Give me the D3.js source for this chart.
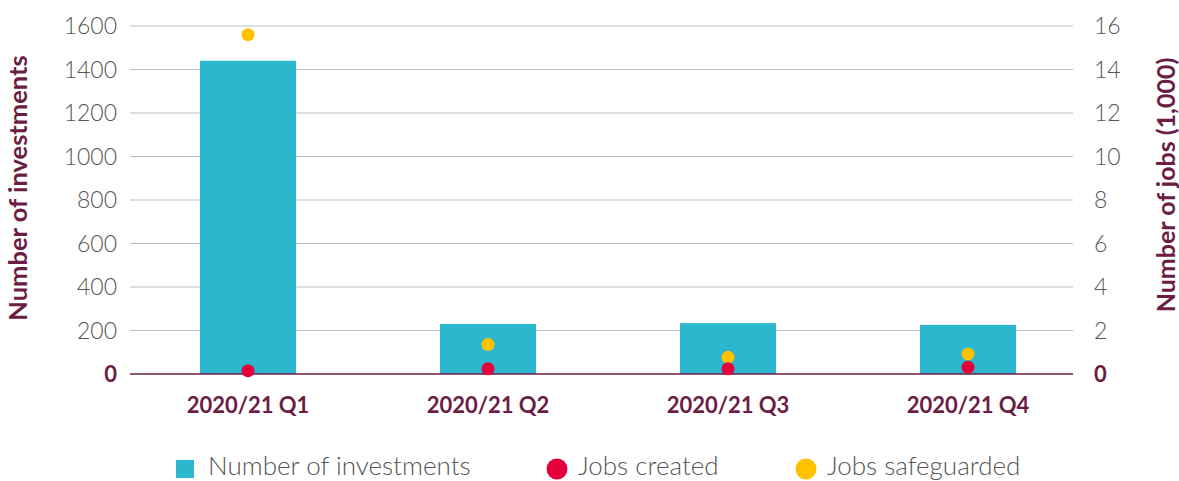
<!DOCTYPE html>
<html>
<head>
<meta charset="utf-8">
<script src="https://cdn.jsdelivr.net/npm/d3@7"></script>
<style>
  body { margin: 0; background: #fff; }
  svg { display: block; font-family: Lato, "Open Sans", sans-serif; }
</style>
</head>
<body>
<script>
  // data
  var quarters = ["2020/21 Q1", "2020/21 Q2", "2020/21 Q3", "2020/21 Q4"];
  var investments = [1440, 230, 234, 226];
  var jobsCreated = [0.15, 0.24, 0.24, 0.31];      // thousands
  var jobsSafeguarded = [15.6, 1.36, 0.77, 0.92];  // thousands
  var leftTicks = [0, 200, 400, 600, 800, 1000, 1200, 1400, 1600];
  var rightTicks = [0, 2, 4, 6, 8, 10, 12, 14, 16];

  var W = 1179, H = 481;
  var maroon = "#6b1d43", grey = "#555555";
  var cBar = "#2bb7cd", cRed = "#e3003c", cYellow = "#ffc100";

  var svg = d3.select("body").append("svg").attr("width", W).attr("height", H);

  var x = d3.scaleBand().domain(quarters).range([128, 1088]).padding(0);
  var bw = 96;
  var yL = d3.scaleLinear().domain([0, 1600]).range([374, 26]);
  var yR = d3.scaleLinear().domain([0, 16]).range([374, 26]);

  var gx0 = 130, gx1 = 1073;

  // gridlines
  svg.append("g").selectAll("line").data(leftTicks.slice(1)).enter().append("line")
    .attr("x1", gx0).attr("x2", gx1)
    .attr("y1", function(d) { return yL(d); }).attr("y2", function(d) { return yL(d); })
    .attr("stroke", "#b8bdca").attr("stroke-width", 1.2);

  // bars
  svg.append("g").selectAll("rect").data(quarters).enter().append("rect")
    .attr("x", function(d) { return x(d) + x.bandwidth() / 2 - bw / 2; })
    .attr("width", bw)
    .attr("y", function(d, i) { return yL(investments[i]); })
    .attr("height", function(d, i) { return yL(0) - yL(investments[i]); })
    .attr("fill", cBar);

  // baseline
  svg.append("line").attr("x1", gx0).attr("x2", gx1)
    .attr("y1", yL(0)).attr("y2", yL(0))
    .attr("stroke", maroon).attr("stroke-width", 1.5);

  // dots
  function dots(vals, col) {
    svg.append("g").selectAll("circle").data(vals).enter().append("circle")
      .attr("cx", function(d, i) { return x(quarters[i]) + x.bandwidth() / 2; })
      .attr("cy", function(d) { return yR(d); })
      .attr("r", 6.5).attr("fill", col);
  }
  dots(jobsSafeguarded, cYellow);
  dots(jobsCreated, cRed);

  // left tick labels
  svg.append("g").selectAll("text").data(leftTicks).enter().append("text")
    .attr("x", 117).attr("y", function(d) { return yL(d); }).attr("dy", "0.36em")
    .attr("text-anchor", "end")
    .attr("font-size", function(d) { return d === 0 ? 22 : 23; })
    .attr("font-weight", function(d) { return d === 0 ? 700 : 300; })
    .attr("fill", function(d) { return d === 0 ? maroon : grey; })
    .text(function(d) { return d; });

  // right tick labels
  svg.append("g").selectAll("text").data(rightTicks).enter().append("text")
    .attr("x", 1094).attr("y", function(d) { return yR(d); }).attr("dy", "0.36em")
    .attr("text-anchor", "start")
    .attr("font-size", function(d) { return d === 0 ? 22 : 23; })
    .attr("font-weight", function(d) { return d === 0 ? 700 : 300; })
    .attr("fill", function(d) { return d === 0 ? maroon : grey; })
    .text(function(d) { return d; });

  // x labels
  svg.append("g").selectAll("text").data(quarters).enter().append("text")
    .attr("x", function(d) { return x(d) + x.bandwidth() / 2; })
    .attr("y", 413)
    .attr("text-anchor", "middle")
    .attr("font-size", 22).attr("font-weight", 700).attr("fill", maroon)
    .text(function(d) { return d; });

  // axis titles
  svg.append("text")
    .attr("transform", "translate(27,188) rotate(-90)")
    .attr("text-anchor", "middle")
    .attr("font-size", 25.5).attr("font-weight", 700).attr("fill", maroon)
    .text("Number of investments");
  svg.append("text")
    .attr("transform", "translate(1175,185) rotate(-90)")
    .attr("text-anchor", "middle")
    .attr("font-size", 25).attr("font-weight", 700).attr("fill", maroon)
    .text("Number of jobs (1,000)");

  // legend
  var legend = [
    { label: "Number of investments", col: cBar, shape: "rect", x: 176 },
    { label: "Jobs created", col: cRed, shape: "circle", x: 547 },
    { label: "Jobs safeguarded", col: cYellow, shape: "circle", x: 796 }
  ];
  var lg = svg.append("g").selectAll("g").data(legend).enter().append("g")
    .attr("transform", function(d) { return "translate(" + d.x + ",467)"; });
  lg.filter(function(d) { return d.shape === "rect"; }).append("rect")
    .attr("x", 0).attr("y", -7).attr("width", 18).attr("height", 18)
    .attr("fill", function(d) { return d.col; });
  lg.filter(function(d) { return d.shape === "circle"; }).append("circle")
    .attr("cx", 10).attr("cy", 2).attr("r", 10.5)
    .attr("fill", function(d) { return d.col; });
  lg.append("text")
    .attr("x", function(d) { return d.shape === "rect" ? 32 : 31; })
    .attr("y", 8)
    .attr("font-size", 26).attr("font-weight", 300).attr("fill", grey)
    .text(function(d) { return d.label; });
</script>
</body>
</html>
